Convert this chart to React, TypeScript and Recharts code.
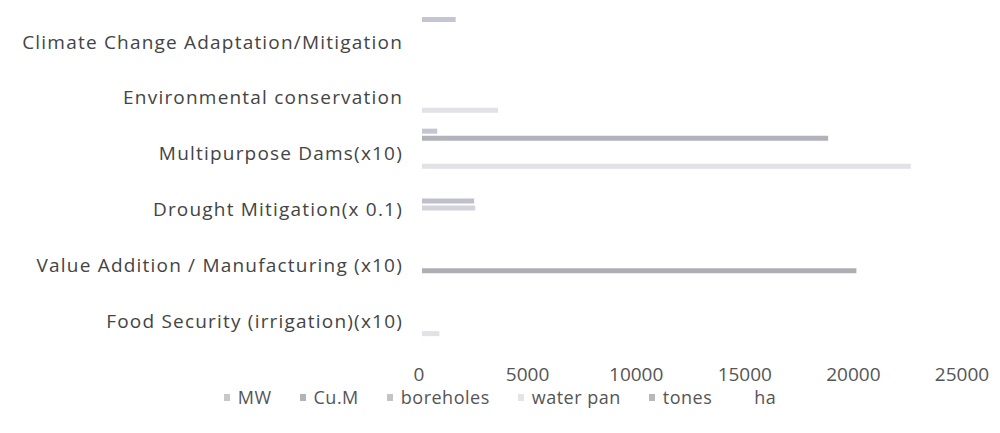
import { Bar, BarChart, XAxis, YAxis } from 'recharts'

const categories = [
    'Climate Change Adaptation/Mitigation',
    'Environmental conservation',
    'Multipurpose Dams(x10)',
    'Drought Mitigation(x 0.1)',
    'Value Addition / Manufacturing (x10)',
    'Food Security (irrigation)(x10)',
]

// one value per category, top to bottom (null = no bar)
const mw = [1550, null, 700, null, null, null]
const cum = [null, null, 18700, null, null, null]
const boreholes = [null, null, null, 2400, null, null]
const waterPan = [null, null, null, 2450, null, null]
const tones = [null, null, null, null, 20000, null]
const ha = [null, 3500, 22500, null, null, 800]

const xTicks = [0, 5000, 10000, 15000, 20000, 25000]

const series = [
    { key: 'mw', name: 'MW', fill: '#c3c5d0', icon: '#c8c8cc' },
    { key: 'cum', name: 'Cu.M', fill: '#b2b2ba', icon: '#b4b4b8' },
    { key: 'boreholes', name: 'boreholes', fill: '#bfbecb', icon: '#c4c4c8' },
    { key: 'waterPan', name: 'water pan', fill: '#d4d3dc', icon: '#e4e4e6' },
    { key: 'tones', name: 'tones', fill: '#aeaeb4', icon: '#b8b8bc' },
    { key: 'ha', name: 'ha', fill: '#e1e1e6', icon: '#ffffff' },
]

const data = categories.map((name, i) => ({
    name,
    mw: mw[i],
    cum: cum[i],
    boreholes: boreholes[i],
    waterPan: waterPan[i],
    tones: tones[i],
    ha: ha[i],
}))

const font = '"Open Sans", sans-serif'

export default function App() {
    return (
        <div style={{ position: 'absolute', left: 0, top: 0, width: 1000, height: 433, background: '#fff', fontFamily: font }}>
            <BarChart
                width={1000}
                height={433}
                data={data}
                layout='vertical'
                margin={{ top: 9, right: 35, bottom: 0, left: 0 }}
                barCategoryGap={8}
                barGap={2}
            >
                <XAxis
                    type='number'
                    domain={[0, 25000]}
                    ticks={xTicks}
                    height={89}
                    axisLine={false}
                    tickLine={false}
                    tickMargin={18}
                    tick={{ fill: '#555', fontSize: 19, fontFamily: font, dx: -3 }}
                />
                <YAxis
                    type='category'
                    dataKey='name'
                    width={422}
                    axisLine={false}
                    tickLine={false}
                    tickMargin={13}
                    interval={0}
                    tick={{ fill: '#444', fontSize: 19, fontFamily: font, letterSpacing: 1.2, dy: 5 }}
                />
                {series.map((s) => (
                    <Bar key={s.key} dataKey={s.key} name={s.name} fill={s.fill} isAnimationActive={false} />
                ))}
            </BarChart>
            <div
                style={{
                    position: 'absolute',
                    top: 385,
                    left: 0,
                    width: 1000,
                    display: 'flex',
                    justifyContent: 'center',
                    gap: 28,
                    paddingLeft: 0,
                    fontSize: 18,
                    letterSpacing: 0.5,
                    color: '#555',
                }}
            >
                {series.map((s) => (
                    <div key={s.key} style={{ display: 'flex', alignItems: 'center', gap: 8 }}>
                        <span style={{ width: 6, height: 7, background: s.icon, display: 'inline-block' }} />
                        <span>{s.name}</span>
                    </div>
                ))}
            </div>
        </div>
    )
}
